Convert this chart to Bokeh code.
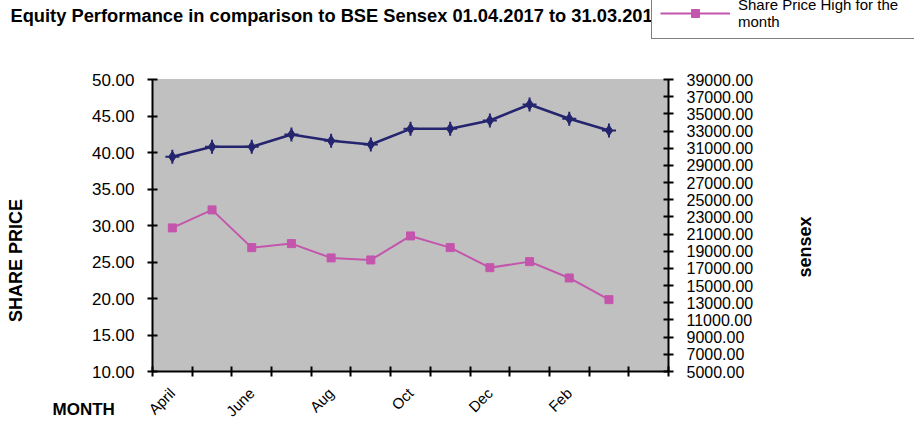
import numpy as np
from bokeh.plotting import figure
from bokeh.models import (Range1d, LinearAxis, FixedTicker, NumeralTickFormatter,
                          Legend, LegendItem, Label, BoxAnnotation, ColumnDataSource)
from bokeh.embed import file_html
from bokeh.resources import INLINE

# ---- data ----
months = ["April", "May", "June", "July", "Aug", "Sep", "Oct", "Nov", "Dec", "Jan", "Feb", "Mar"]
share_price_high = [29.67, 32.14, 26.97, 27.52, 25.56, 25.28, 28.57, 26.97, 24.22, 25.05, 22.81, 19.84]
sensex_high = [30000, 31160, 31160, 32600, 31860, 31430, 33260, 33260, 34230, 36090, 34430, 33060]
share_ticks = [10, 15, 20, 25, 30, 35, 40, 45, 50]
sensex_ticks = list(range(5000, 39001, 2000))
shown_month_idx = list(range(0, len(months), 2))

title_text = "Equity Performance in comparison to BSE Sensex 01.04.2017 to 31.03.2018"
legend_text = "Share Price High for the\nmonth"

FONT = "Liberation Sans"
BLUE = "#25256F"
PINK = "#C455AC"

# ---- layout constants (page pixels; the canvas fills the page) ----
W, H = 914, 423
PLOT_L, PLOT_R, PLOT_T, PLOT_B = 152, 668, 79, 371
LEFT_TITLE_CY = 260      # centre of "SHARE PRICE"
RIGHT_TITLE_START = 277  # lower end of the rotated "sensex"

n_slots = len(months) + 1
xs = [i + 0.5 for i in range(len(months))]
src = ColumnDataSource(dict(x=xs, month=months, share=share_price_high, sensex=sensex_high))

# ranges chosen so that the plot area sits where it does in the reference
ux = n_slots / (PLOT_R - PLOT_L)
x_start = 0 - PLOT_L * ux
x_end = n_slots + (W - PLOT_R) * ux
uy = (share_ticks[-1] - share_ticks[0]) / (PLOT_B - PLOT_T)
y_end = share_ticks[-1] + PLOT_T * uy
y_start = y_end - H * uy
us = (sensex_ticks[-1] - sensex_ticks[0]) / (PLOT_B - PLOT_T)
s_end = sensex_ticks[-1] + PLOT_T * us
s_start = s_end - H * us


def page_y_to_share(py):
    return y_end - py * uy


def centred_bounds(cy):
    half = min(cy, H - cy) - 2
    return (page_y_to_share(cy + half), page_y_to_share(cy - half))


def sy(page_y):
    return H - page_y


p = figure(width=W, height=H, output_backend="svg", toolbar_location=None, title=None,
           x_range=Range1d(x_start, x_end), y_range=Range1d(y_start, y_end),
           min_border=0, x_axis_type=None, y_axis_type=None)
p.background_fill_color = "white"
p.border_fill_color = "white"
p.outline_line_color = None
p.extra_y_ranges = {"sensex": Range1d(s_start, s_end)}

# plot area
p.add_layout(BoxAnnotation(left=0, right=n_slots, bottom=share_ticks[0], top=share_ticks[-1],
                           fill_color="#C0C0C0", fill_alpha=1, line_color="#808080",
                           line_width=1, level="underlay"))

# ---- axes ----
left = LinearAxis(ticker=FixedTicker(ticks=share_ticks), fixed_location=0,
                  bounds=(share_ticks[0], share_ticks[-1]),
                  formatter=NumeralTickFormatter(format="0.00"))
right = LinearAxis(y_range_name="sensex", ticker=FixedTicker(ticks=sensex_ticks),
                   fixed_location=n_slots, bounds=(sensex_ticks[0], sensex_ticks[-1]),
                   formatter=NumeralTickFormatter(format="0.00"))
bottom = LinearAxis(ticker=FixedTicker(ticks=[xs[i] for i in shown_month_idx],
                                       minor_ticks=list(range(n_slots + 1))),
                    fixed_location=share_ticks[0], bounds=(0, n_slots))
bottom.major_label_overrides = {xs[i]: months[i] for i in shown_month_idx}
bottom.major_label_orientation = np.pi / 4

for ax in (left, right, bottom):
    ax.axis_line_color = "black"
    ax.axis_line_width = 2
    ax.major_tick_line_color = "black"
    ax.major_tick_line_width = 2
    ax.major_tick_in = 5
    ax.major_tick_out = 5
    ax.minor_tick_line_color = None
    ax.major_label_text_font = FONT
    ax.major_label_text_color = "black"

left.major_label_text_font_size = "17px"
left.major_label_standoff = 13
right.major_label_text_font_size = "16px"
right.major_label_standoff = 13

bottom.major_tick_line_color = None
bottom.minor_tick_line_color = "black"
bottom.minor_tick_line_width = 2
bottom.minor_tick_in = 5
bottom.minor_tick_out = 5
bottom.major_label_text_font_size = "15px"
bottom.major_label_standoff = 14

# axis titles (tick-less axes, placed where the reference puts them)
left_title = LinearAxis(ticker=FixedTicker(ticks=[]), fixed_location=0,
                        bounds=centred_bounds(LEFT_TITLE_CY), axis_label="SHARE PRICE")
right_title = LinearAxis(ticker=FixedTicker(ticks=[]), fixed_location=n_slots,
                         bounds=centred_bounds(RIGHT_TITLE_START), axis_label="sensex")
for ax in (left_title, right_title):
    ax.axis_line_color = None
    ax.major_tick_line_color = None
    ax.minor_tick_line_color = None
    ax.major_tick_in = 0
    ax.major_tick_out = 0
    ax.axis_label_text_font = FONT
    ax.axis_label_text_font_style = "bold"
    ax.axis_label_text_font_size = "18px"
    ax.axis_label_text_color = "black"
left_title.axis_label_standoff = 127
right_title.axis_label_standoff = 136
if "axis_label_orientation" in right_title.properties():
    right_title.axis_label_orientation = np.pi / 2

p.add_layout(left, "left")
p.add_layout(left_title, "left")
p.add_layout(right, "right")
p.add_layout(right_title, "right")
p.add_layout(bottom, "below")

# ---- series ----
bl = p.line("x", "sensex", source=src, y_range_name="sensex", line_color=BLUE, line_width=2.5)
bd = p.scatter("x", "sensex", source=src, y_range_name="sensex", marker="diamond",
               size=11, fill_color=BLUE, line_color=BLUE)
bc = p.scatter("x", "sensex", source=src, y_range_name="sensex", marker="cross",
               size=14, line_color=BLUE, line_width=2)

pl = p.line("x", "share", source=src, line_color=PINK, line_width=2)
ps = p.scatter("x", "share", source=src, marker="square", size=8,
               fill_color=PINK, line_color=PINK)

# ---- title ----
p.add_layout(Label(x=10, y=sy(15), x_units="screen", y_units="screen", text=title_text,
                   text_font=FONT, text_font_size="18.3px", text_font_style="bold",
                   text_color="black", text_baseline="middle", text_align="left"))

# ---- legend ----
legend = Legend(items=[LegendItem(label=legend_text, renderers=[pl, ps])],
                location=(651, sy(39)), orientation="vertical")
legend.label_text_font = FONT
legend.label_text_font_size = "15px"
legend.label_text_color = "black"
legend.label_width = 200
legend.glyph_width = 70
legend.label_standoff = 8
legend.padding = 8
legend.margin = 0
legend.border_line_color = "black"
legend.border_line_width = 1.5
legend.background_fill_color = "white"
legend.background_fill_alpha = 1
p.add_layout(legend, "center")

# ---- "MONTH" caption ----
p.add_layout(Label(x=52, y=sy(409), x_units="screen", y_units="screen", text="MONTH",
                   text_font=FONT, text_font_size="17px", text_font_style="bold",
                   text_color="black", text_baseline="middle", text_align="left"))

p.grid.visible = False

open("out.html", "w").write(file_html(p, INLINE))
